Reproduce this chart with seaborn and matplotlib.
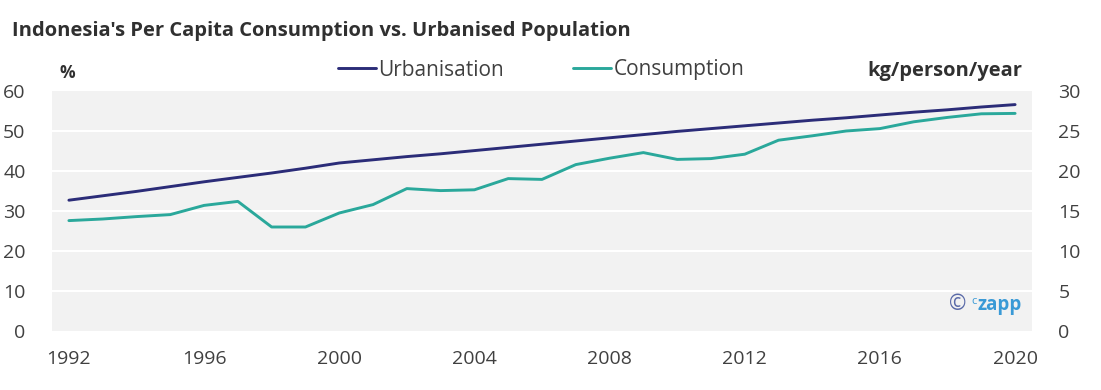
import numpy as np
import pandas as pd
import matplotlib
matplotlib.use("Agg")
import matplotlib.pyplot as plt
import seaborn as sns

years = list(range(1992, 2021))
urbanisation = [32.7, 33.8, 34.9, 36.1, 37.3, 38.4, 39.5, 40.7, 42.0, 42.8,
                43.6, 44.3, 45.1, 45.9, 46.7, 47.5, 48.3, 49.1, 49.9, 50.6,
                51.3, 52.0, 52.7, 53.3, 54.0, 54.7, 55.3, 56.0, 56.6]
consumption = [13.8, 14.0, 14.3, 14.55, 15.7, 16.2, 13.0, 13.0, 14.75, 15.8,
               17.8, 17.55, 17.65, 19.05, 18.95, 20.8, 21.6, 22.3, 21.45, 21.55,
               22.1, 23.85, 24.4, 25.0, 25.3, 26.15, 26.7, 27.15, 27.2]
left_ticks = [0, 10, 20, 30, 40, 50, 60]
right_ticks = [0, 5, 10, 15, 20, 25, 30]
x_ticks = [1992, 1996, 2000, 2004, 2008, 2012, 2016, 2020]

URB_COLOR = "#2b2c78"
CON_COLOR = "#2aa89b"
TEXT_COLOR = "#404040"

df = pd.DataFrame({"Year": years, "Urbanisation": urbanisation, "Consumption": consumption})

sns.set_theme(style="white", rc={"axes.facecolor": "#f2f2f2"})
plt.rcParams["font.family"] = ["Open Sans", "DejaVu Sans"]

fig = plt.figure(figsize=(11.01, 3.9), dpi=100)
ax = fig.add_axes([52 / 1101, 59 / 390, 980 / 1101, 240 / 390])
ax2 = ax.twinx()

for y in left_ticks[1:-1]:
    ax.axhline(y, color="white", lw=1.5, zorder=1)

sns.lineplot(data=df, x="Year", y="Urbanisation", ax=ax, color=URB_COLOR, lw=2.1, label="Urbanisation", legend=False, zorder=3)
sns.lineplot(data=df, x="Year", y="Consumption", ax=ax2, color=CON_COLOR, lw=2.1, label="Consumption", legend=False, zorder=3)

ax.set_xlim(1991.5, 2020.5)
ax.set_ylim(0, 60)
ax2.set_ylim(0, 30)
ax.set_xticks(x_ticks)
ax.set_yticks(left_ticks)
ax2.set_yticks(right_ticks)
ax.set_xlabel("")
ax.set_ylabel("")
ax2.set_ylabel("")
for a in (ax, ax2):
    for s in a.spines.values():
        s.set_visible(False)
ax.tick_params(axis="y", length=0, pad=19, labelsize=14, labelcolor=TEXT_COLOR)
ax.tick_params(axis="x", length=0, pad=14, labelsize=14, labelcolor=TEXT_COLOR)
ax2.tick_params(axis="y", length=0, pad=19, labelsize=14, labelcolor=TEXT_COLOR)

fig.text(12 / 1101, 1 - 31 / 390, "Indonesia's Per Capita Consumption vs. Urbanised Population",
         fontsize=14.5, fontweight="bold", color="#303030", va="center", ha="left")
fig.text(60 / 1101, 1 - 73 / 390, "%", fontsize=12.5, fontweight="bold", color="#303030", va="center")
fig.text(1022 / 1101, 1 - 71 / 390, "kg/person/year", fontsize=14.5, fontweight="bold",
         color="#303030", va="center", ha="right")

h1, l1 = ax.get_legend_handles_labels()
h2, l2 = ax2.get_legend_handles_labels()
fig.legend(h1 + h2, l1 + l2, loc="center", bbox_to_anchor=(541 / 1101, 1 - 70 / 390), ncol=2,
           frameon=False, fontsize=15, handlelength=1.85, handletextpad=0.1, columnspacing=3.3,
           labelcolor=TEXT_COLOR)

fig.text(966 / 1101, 1 - 305 / 390, "\u00a9", fontsize=15, color="#5a6aa8", va="center", ha="right")
fig.text(971 / 1101, 1 - 301 / 390, "c", fontsize=8, color="#3a9ad6", va="center", ha="left")
fig.text(1022 / 1101, 1 - 305 / 390, "zapp", fontsize=13.5, fontweight="bold", color="#3a9ad6",
         va="center", ha="right")

fig.savefig("out.png", dpi=100)
